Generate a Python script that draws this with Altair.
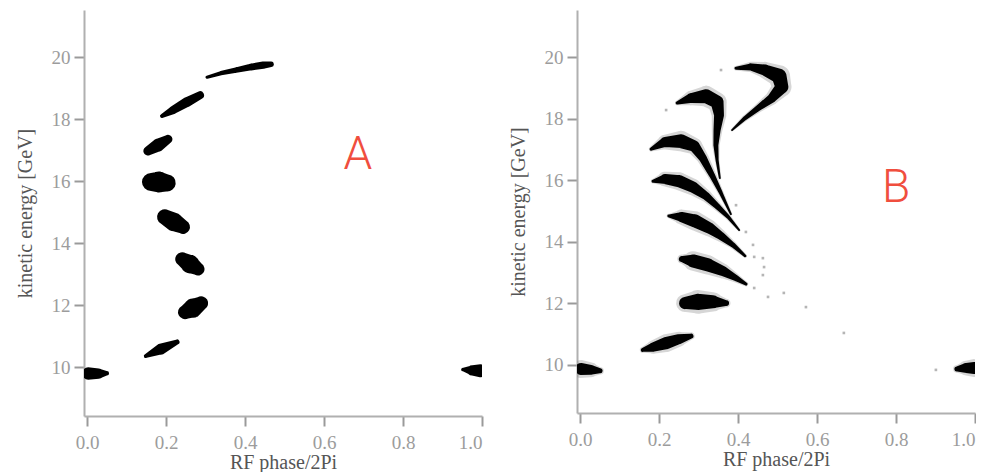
import altair as alt
import pandas as pd

# ---------------- Panel A: bunches (points along each bunch's long axis) ----------------
a_phase = [
    [0.003, 0.030, 0.050],
    [0.952, 0.975, 0.995],
    [0.149, 0.187, 0.228],
    [0.248, 0.268, 0.289],
    [0.241, 0.261, 0.281],
    [0.197, 0.220, 0.243],
    [0.162, 0.182, 0.203],
    [0.154, 0.180, 0.205],
    [0.190, 0.218, 0.253, 0.286],
    [0.304, 0.339, 0.377, 0.415, 0.446, 0.466],
]
a_energy = [
    [9.79, 9.79, 9.80],
    [9.92, 9.89, 9.88],
    [10.355, 10.58, 10.81],
    [11.77, 11.90, 12.06],
    [13.48, 13.32, 13.16],
    [14.84, 14.68, 14.52],
    [15.97, 15.97, 15.94],
    [16.97, 17.16, 17.35],
    [18.10, 18.29, 18.55, 18.77],
    [19.35, 19.48, 19.58, 19.68, 19.74, 19.77],
]
a_spread = [
    [0.40, 0.33, 0.15],
    [0.12, 0.33, 0.42],
    [0.13, 0.36, 0.16],
    [0.45, 0.62, 0.45],
    [0.45, 0.60, 0.42],
    [0.50, 0.60, 0.45],
    [0.58, 0.68, 0.55],
    [0.29, 0.42, 0.29],
    [0.13, 0.26, 0.32, 0.26],
    [0.10, 0.14, 0.18, 0.22, 0.24, 0.18],
]

# ---------------- Panel B: filamented bunches ----------------
b_phase = [
    [0.003, 0.028, 0.051],
    [0.954, 0.977, 0.997],
    [0.159, 0.185, 0.218, 0.251, 0.281],
    [0.266, 0.299, 0.337, 0.370],
    [0.258, 0.286, 0.324, 0.362, 0.395, 0.420],
    [0.225, 0.256, 0.291, 0.327, 0.357, 0.387, 0.418],
    [0.185, 0.215, 0.251, 0.286, 0.319, 0.347, 0.375, 0.403],
    [0.180, 0.215, 0.256, 0.289, 0.311, 0.334, 0.357, 0.382],
    [0.246, 0.281, 0.319, 0.347, 0.352, 0.347, 0.344, 0.347, 0.354],
    [0.395, 0.433, 0.468, 0.504, 0.511, 0.486, 0.451, 0.418, 0.385],
]
b_energy = [
    [9.87, 9.84, 9.81],
    [9.87, 9.90, 9.90],
    [10.49, 10.58, 10.71, 10.84, 10.94],
    [12.01, 12.05, 12.05, 12.01],
    [13.44, 13.38, 13.25, 13.05, 12.82, 12.63],
    [14.84, 14.81, 14.68, 14.45, 14.19, 13.90, 13.54],
    [15.97, 16.04, 15.97, 15.78, 15.49, 15.16, 14.81, 14.38],
    [17.01, 17.24, 17.27, 17.11, 16.72, 16.17, 15.58, 14.90],
    [18.51, 18.67, 18.73, 18.54, 18.12, 17.63, 17.14, 16.66, 16.07],
    [19.64, 19.68, 19.58, 19.38, 19.03, 18.67, 18.34, 18.02, 17.63],
]
b_spread = [
    [0.39, 0.32, 0.16],
    [0.16, 0.32, 0.39],
    [0.13, 0.29, 0.39, 0.32, 0.16],
    [0.39, 0.52, 0.42, 0.19],
    [0.20, 0.42, 0.42, 0.32, 0.19, 0.10],
    [0.10, 0.32, 0.42, 0.36, 0.26, 0.16, 0.08],
    [0.10, 0.32, 0.39, 0.36, 0.26, 0.19, 0.12, 0.06],
    [0.10, 0.32, 0.45, 0.36, 0.26, 0.19, 0.12, 0.06],
    [0.10, 0.32, 0.45, 0.42, 0.32, 0.23, 0.16, 0.10, 0.06],
    [0.10, 0.23, 0.36, 0.48, 0.42, 0.29, 0.19, 0.13, 0.06],
]

# isolated stray particles in panel B
dot_phase = [0.357, 0.218, 0.441, 0.463, 0.466, 0.463, 0.441, 0.516, 0.476, 0.572,
             0.668, 0.901, 0.395, 0.420, 0.438]
dot_energy = [19.58, 18.28, 13.51, 13.47, 13.18, 12.92, 12.50, 12.34, 12.21, 11.88,
              11.04, 9.84, 15.19, 14.32, 13.90]

# panel letters
letters = ["A", "B"]
letter_phase = [0.686, 0.800]
letter_energy = [16.84, 15.75]

y_ticks = [10, 12, 14, 16, 18, 20]
x_ticks = [0.0, 0.2, 0.4, 0.6, 0.8, 1.0]


def bunch_frame(phases, energies, spreads):
    rows = []
    for b, (ps, es, ws) in enumerate(zip(phases, energies, spreads)):
        for i, (p, e, w) in enumerate(zip(ps, es, ws)):
            rows.append({"bunch": b, "idx": i, "phase": p, "energy": e, "spread": w})
    return pd.DataFrame(rows)


df_a = bunch_frame(a_phase, a_energy, a_spread)
df_b = bunch_frame(b_phase, b_energy, b_spread)
df_dots = pd.DataFrame({"phase": dot_phase, "energy": dot_energy})
df_letters = pd.DataFrame({"t": letters, "phase": letter_phase, "energy": letter_energy})

SERIF = "Liberation Serif"
axis_common = dict(
    grid=False,
    tickSize=10,
    tickWidth=2,
    tickColor="#9a9a9a",
    domainColor="#b0b0b0",
    domainWidth=2,
    labelColor="#9c9c9c",
    labelFont=SERIF,
    labelFontSize=19,
    titleFont=SERIF,
    titleFontSize=20,
    titleFontWeight="normal",
    titleColor="#555555",
)


def enc_xy(ydom):
    x = alt.X(
        "phase:Q",
        scale=alt.Scale(domain=[-0.0076, 1.0], nice=False, zero=False),
        axis=alt.Axis(values=x_ticks, format=".1f", title="RF phase/2Pi",
                      labelPadding=7, titlePadding=0, **axis_common),
    )
    y = alt.Y(
        "energy:Q",
        scale=alt.Scale(domain=ydom, nice=False, zero=False),
        axis=alt.Axis(values=y_ticks, format="d", title="kinetic energy [GeV]",
                      labelPadding=4, titlePadding=16, **axis_common),
    )
    return x, y


def panel(df, ydom, height, letter, halo=False, dots=False):
    x, y = enc_xy(ydom)
    layers = []
    if halo:
        layers.append(
            alt.Chart(df).mark_trail(clip=True, color="#8a8a8a", opacity=0.35).encode(
                x=x, y=y, detail="bunch:N", order="idx:Q",
                size=alt.Size("spread:Q", scale=alt.Scale(domain=[0, 1], range=[0, 46]), legend=None),
            )
        )
    layers.append(
        alt.Chart(df).mark_trail(clip=True, color="#000000").encode(
            x=x, y=y, detail="bunch:N", order="idx:Q",
            size=alt.Size("spread:Q", scale=alt.Scale(domain=[0, 1], range=[0, 31]), legend=None),
        )
    )
    if dots:
        layers.append(
            alt.Chart(df_dots).mark_square(size=7, color="#b5b5b5", opacity=1).encode(x=x, y=y)
        )
    layers.append(
        alt.Chart(df_letters[df_letters["t"] == letter]).mark_text(
            font="Roboto", fontWeight=300, fontSize=46, color="#f04e3e",
            align="center", baseline="middle",
        ).encode(x=x, y=y, text="t:N")
    )
    return alt.layer(*layers).resolve_scale(size="independent").properties(width=398, height=height)


left = panel(df_a, [8.42, 21.52], 406, "A")
right = panel(df_b, [8.44, 21.53], 403, "B", halo=True, dots=True)

chart = (
    alt.hconcat(left, right, spacing=25)
    .properties(padding={"left": 7, "top": 2, "right": 0, "bottom": 0}, background="white")
    .configure_view(stroke=None)
)

chart.save("out.html", embed_options={"renderer": "svg", "actions": False})
